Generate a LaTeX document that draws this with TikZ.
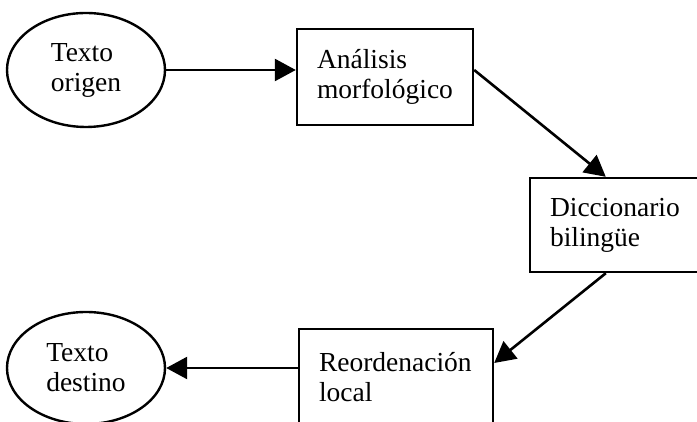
\documentclass[tikz,border=0pt]{standalone}
\usepackage{fontspec}
\setmainfont{Liberation Serif}
\usetikzlibrary{arrows.meta,calc,shapes.geometric}
\tikzset{
  every node/.style={font=\fontsize{27.5}{30}\selectfont},
  stepbox/.style={draw, line width=2.4pt, rectangle, align=left, inner xsep=20pt, inner ysep=0pt},
  endpoint/.style={draw, line width=2.4pt, ellipse, align=left, inner sep=0pt, minimum width=158pt},
  flow/.style={line width=2.6pt, -{Triangle[length=21pt,width=22pt]}}
}
\begin{document}
\begin{tikzpicture}[x=1pt,y=1pt]
\useasboundingbox (0,0) rectangle (697,422);
\clip (0,0) rectangle (697,422);
\node[endpoint, minimum height=114pt] (e1) at (86,352) {Texto\\origen};
\node[stepbox, text width=136pt, minimum height=96pt] (b1) at (385,345) {Análisis\\morfológico};
\node[stepbox, text width=154pt, minimum height=94pt] (b2) at (627,197) {Diccionario\\bilingüe};
\node[stepbox, text width=154pt, minimum height=96pt] (b3) at (396,45) {Reordenación\\local};
\node[endpoint, minimum height=112pt] (e2) at (86,54) {Texto\\destino};
\draw[flow] (e1.east) -- (e1.east -| b1.west);
\draw[flow] (e1.east -| b1.east) -- ($(b2.north west)+(77,0)$);
\draw[flow] ($(b2.south west)+(77,0)$) -- ($(b3.east)+(0,14)$);
\draw[flow] (e2.east -| b3.west) -- (e2.east);
\end{tikzpicture}
\end{document}
